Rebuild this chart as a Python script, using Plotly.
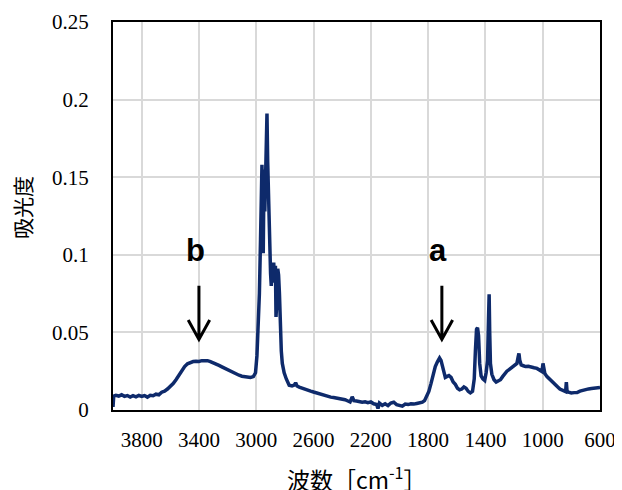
import plotly.graph_objects as go

# Wavenumber (cm-1) and absorbance
wavenumber = [4000, 3995, 3980, 3960, 3940, 3920, 3900, 3880, 3860, 3840, 3820, 3800, 3780, 3760, 3740,
              3720, 3700, 3680, 3660, 3640, 3620, 3600, 3580, 3560, 3540, 3520, 3500, 3480, 3460, 3440,
              3420, 3400, 3380, 3360, 3340, 3320, 3300, 3280, 3260, 3240, 3220, 3200, 3180, 3160, 3140,
              3120, 3100, 3080, 3060, 3040, 3020, 3005, 2995, 2985, 2978, 2970, 2965, 2960, 2955, 2951,
              2947, 2944, 2940, 2935, 2930, 2925, 2920, 2916, 2910, 2905, 2900, 2895, 2890, 2884, 2878,
              2872, 2866, 2862, 2856, 2850, 2844, 2838, 2832, 2825, 2818, 2805, 2790, 2770, 2750, 2735,
              2725, 2715, 2700, 2680, 2660, 2640, 2620, 2600, 2580, 2560, 2540, 2520, 2500, 2480, 2460,
              2440, 2420, 2400, 2380, 2360, 2345, 2330, 2318, 2300, 2280, 2260, 2240, 2220, 2200, 2180,
              2160, 2150, 2140, 2120, 2100, 2080, 2060, 2040, 2020, 2000, 1980, 1960, 1940, 1920, 1900,
              1880, 1860, 1840, 1825, 1810, 1795, 1780, 1765, 1750, 1735, 1720, 1710, 1700, 1690, 1680,
              1670, 1655, 1640, 1625, 1610, 1595, 1580, 1565, 1550, 1535, 1520, 1505, 1490, 1478, 1470,
              1462, 1455, 1448, 1440, 1430, 1418, 1405, 1395, 1385, 1378, 1374, 1370, 1365, 1355, 1340,
              1325, 1310, 1295, 1280, 1265, 1250, 1235, 1220, 1205, 1190, 1180, 1172, 1166, 1160, 1150,
              1135, 1120, 1100, 1080, 1060, 1040, 1020, 1005, 998, 993, 985, 970, 955, 940, 925,
              910, 895, 880, 865, 850, 840, 835, 830, 820, 800, 780, 760, 740, 720, 700,
              680, 660, 640, 620, 600]
absorbance = [0.002, 0.009, 0.0095, 0.0090, 0.0098, 0.0088, 0.0093, 0.0083, 0.0092, 0.0085, 0.0094, 0.0087, 0.0093, 0.0083, 0.0095,
              0.0092, 0.0102, 0.0098, 0.0115, 0.0122, 0.0135, 0.0150, 0.0170, 0.0195, 0.0225, 0.0255, 0.0280, 0.0298, 0.0308, 0.0312,
              0.0314, 0.0313, 0.0318, 0.0320, 0.0318, 0.0312, 0.0305, 0.0296, 0.0287, 0.0278, 0.0268, 0.0258, 0.0248, 0.0239, 0.0230,
              0.0224, 0.0218, 0.0214, 0.0212, 0.0210, 0.0215, 0.0240, 0.0350, 0.0550, 0.075, 0.110, 0.145, 0.158, 0.130, 0.101,
              0.140, 0.155, 0.128, 0.150, 0.170, 0.191, 0.160, 0.140, 0.120, 0.105, 0.088, 0.080, 0.095, 0.087, 0.095,
              0.082, 0.093, 0.060, 0.070, 0.091, 0.087, 0.075, 0.050, 0.038, 0.030, 0.024, 0.020, 0.016, 0.0155, 0.0160,
              0.0175, 0.0155, 0.0148, 0.0140, 0.0137, 0.0130, 0.0122, 0.0116, 0.0110, 0.0104, 0.0098, 0.0090, 0.0086, 0.0083, 0.0081,
              0.0078, 0.0077, 0.0073, 0.0066, 0.0058, 0.0052, 0.0085, 0.0060, 0.0058, 0.0054, 0.0050, 0.0053, 0.0047, 0.0052, 0.0040,
              0.0035, 0.0010, 0.0045, 0.0030, 0.0040, 0.0028, 0.0045, 0.0050, 0.0035, 0.0030, 0.0025, 0.0038, 0.0035, 0.0040, 0.0038,
              0.0042, 0.0045, 0.0050, 0.0060, 0.0090, 0.0120, 0.0170, 0.0230, 0.0280, 0.0310, 0.0335, 0.0320, 0.0280, 0.0240, 0.0210,
              0.0215, 0.0222, 0.0210, 0.0180, 0.0165, 0.0140, 0.0130, 0.0135, 0.0148, 0.0140, 0.0120, 0.0110, 0.0120, 0.0200, 0.0380,
              0.0520, 0.0530, 0.0480, 0.0300, 0.0220, 0.0200, 0.0190, 0.0240, 0.0320, 0.0600, 0.0745, 0.0500, 0.0300, 0.0230, 0.0195,
              0.0180, 0.0185, 0.0195, 0.0215, 0.0235, 0.0250, 0.0260, 0.0270, 0.0280, 0.0290, 0.0300, 0.0340, 0.0365, 0.0320, 0.0290,
              0.0285, 0.0280, 0.0282, 0.0275, 0.0272, 0.0268, 0.0260, 0.0248, 0.0300, 0.0260, 0.0235, 0.0215, 0.0200, 0.0185, 0.0170,
              0.0160, 0.0148, 0.0135, 0.0128, 0.0120, 0.0118, 0.0180, 0.0120, 0.0115, 0.0110, 0.0112, 0.0113, 0.0122, 0.0128, 0.0133,
              0.0136, 0.0138, 0.0140, 0.0142, 0.0145]

x_ticks = [3800, 3400, 3000, 2600, 2200, 1800, 1400, 1000, 600]
y_ticks = [0, 0.05, 0.1, 0.15, 0.2, 0.25]
y_tick_labels = ["0", "0.05", "0.1", "0.15", "0.2", "0.25"]

labels = ["b", "a"]
label_wn = [3421, 1730]
arrow_wn = [3400, 1704]

SERIF = "Liberation Serif"

fig = go.Figure()
fig.add_trace(go.Scatter(x=wavenumber, y=absorbance, mode="lines",
                         line=dict(color="#0e2a6b", width=3.5), showlegend=False,
                         hoverinfo="skip"))

# arrows (shaft + open V head)
for wn in arrow_wn:
    fig.add_shape(type="path",
                  path=f"M {wn} 0.080 L {wn} 0.0455 M {wn+75} 0.0580 L {wn} 0.0455 L {wn-75} 0.0580",
                  xref="x", yref="y", line=dict(color="black", width=3))

for lab, wn in zip(labels, label_wn):
    fig.add_annotation(x=wn, y=0.0905, xref="x", yref="y", text=f"<b>{lab}</b>",
                       showarrow=False, yanchor="bottom",
                       font=dict(family="Liberation Sans", size=31, color="black"))

# axis titles
fig.add_annotation(x=-0.187, y=0.523, xref="paper", yref="paper", text="吸光度",
                   textangle=-90, showarrow=False, xanchor="center", yanchor="middle",
                   font=dict(family="Noto Sans CJK JP", size=21, color="black"))
fig.add_annotation(x=0.5, y=-0.175, xref="paper", yref="paper", text="波数［cm<sup>-1</sup>］",
                   showarrow=False, xanchor="center", yanchor="middle",
                   font=dict(family="Noto Sans CJK JP", size=23, color="black"))

fig.update_xaxes(range=[4000, 600], tickvals=x_ticks, ticktext=[str(v) for v in x_ticks],
                 showgrid=True, gridcolor="#d9d9d9", gridwidth=1.5, automargin=False,
                 showline=True, linecolor="black", linewidth=2, mirror=True,
                 ticks="", ticklabelstandoff=10, zeroline=False,
                 tickfont=dict(family=SERIF, size=21, color="black"))
fig.update_yaxes(range=[0, 0.25], tickvals=y_ticks, ticktext=y_tick_labels,
                 showgrid=True, gridcolor="#d9d9d9", gridwidth=1.5, automargin=False,
                 showline=True, linecolor="black", linewidth=2, mirror=True,
                 ticks="", ticklabelstandoff=18, zeroline=False,
                 tickfont=dict(family=SERIF, size=21, color="black"))

# page body has an 8px margin, so the figure is sized and offset to compensate
fig.update_layout(width=614, height=482, margin=dict(l=105, r=22, t=14, b=80),
                  paper_bgcolor="white", plot_bgcolor="white")

fig.write_html("out.html")
